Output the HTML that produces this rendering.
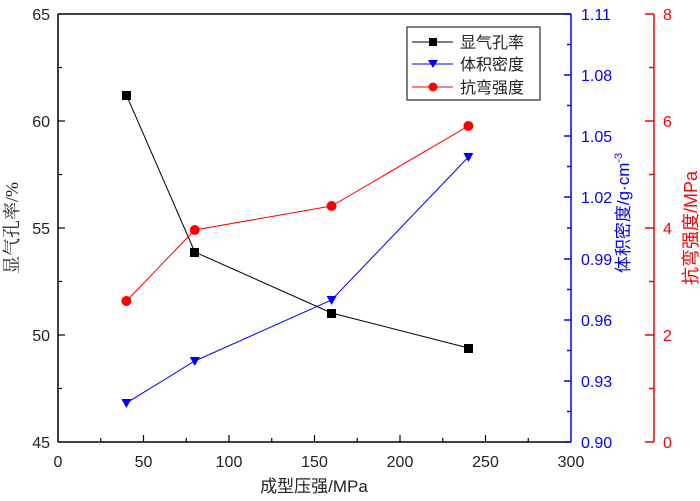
<!DOCTYPE html>
<html><head><meta charset="utf-8"><style>body{margin:0;background:#fff}svg{display:block}</style></head><body>
<svg width="700" height="501" xmlns="http://www.w3.org/2000/svg" font-family="Liberation Sans, Noto Sans CJK SC, sans-serif">
<rect width="700" height="501" fill="#fff"/>
<g stroke="#000" stroke-width="1.5" fill="none">
<line x1="58" y1="14" x2="571" y2="14"/>
<line x1="58" y1="14" x2="58" y2="442"/>
<line x1="58" y1="442" x2="571" y2="442"/>
</g>
<g stroke="#000" stroke-width="1.2">
<line x1="58" y1="121" x2="65" y2="121"/><line x1="58" y1="228" x2="65" y2="228"/><line x1="58" y1="335" x2="65" y2="335"/>
<line x1="58" y1="67.5" x2="62" y2="67.5"/><line x1="58" y1="174.5" x2="62" y2="174.5"/><line x1="58" y1="281.5" x2="62" y2="281.5"/><line x1="58" y1="388.5" x2="62" y2="388.5"/>
<line x1="143.5" y1="442" x2="143.5" y2="435"/><line x1="229" y1="442" x2="229" y2="435"/><line x1="314.5" y1="442" x2="314.5" y2="435"/><line x1="400" y1="442" x2="400" y2="435"/><line x1="485.5" y1="442" x2="485.5" y2="435"/>
<line x1="100.75" y1="442" x2="100.75" y2="438"/><line x1="186.25" y1="442" x2="186.25" y2="438"/><line x1="271.75" y1="442" x2="271.75" y2="438"/><line x1="357.25" y1="442" x2="357.25" y2="438"/><line x1="442.75" y1="442" x2="442.75" y2="438"/><line x1="528.25" y1="442" x2="528.25" y2="438"/>
</g>
<g font-size="16" fill="#222" text-anchor="end">
<text x="50" y="20">65</text><text x="50" y="127">60</text><text x="50" y="234">55</text><text x="50" y="341">50</text><text x="50" y="448">45</text>
</g>
<g font-size="16" fill="#222" text-anchor="middle">
<text x="58" y="467">0</text><text x="143.5" y="467">50</text><text x="229" y="467">100</text><text x="314.5" y="467">150</text><text x="400" y="467">200</text><text x="485.5" y="467">250</text><text x="571" y="467">300</text>
</g>
<text x="314" y="492" font-size="17" text-anchor="middle" fill="#222">成型压强/MPa</text>
<text transform="translate(18,228) rotate(-90)" font-size="18" text-anchor="middle" fill="#222" font-family="Liberation Serif, Noto Serif CJK SC, serif">显气孔率/%</text>
<g stroke="#00f" stroke-width="1.5">
<line x1="571" y1="14" x2="571" y2="442"/>
<line x1="564" y1="14" x2="571" y2="14"/><line x1="564" y1="75" x2="571" y2="75"/><line x1="564" y1="136" x2="571" y2="136"/><line x1="564" y1="197" x2="571" y2="197"/><line x1="564" y1="259" x2="571" y2="259"/><line x1="564" y1="320" x2="571" y2="320"/><line x1="564" y1="381" x2="571" y2="381"/><line x1="564" y1="442" x2="571" y2="442"/>
<line x1="567" y1="44.5" x2="571" y2="44.5"/><line x1="567" y1="105.5" x2="571" y2="105.5"/><line x1="567" y1="166.5" x2="571" y2="166.5"/><line x1="567" y1="228" x2="571" y2="228"/><line x1="567" y1="289.5" x2="571" y2="289.5"/><line x1="567" y1="350.5" x2="571" y2="350.5"/><line x1="567" y1="411.5" x2="571" y2="411.5"/>
</g>
<g font-size="16" fill="#00f">
<text x="581" y="20">1.11</text><text x="581" y="81">1.08</text><text x="581" y="142">1.05</text><text x="581" y="203">1.02</text><text x="581" y="265">0.99</text><text x="581" y="326">0.96</text><text x="581" y="387">0.93</text><text x="581" y="448">0.90</text>
</g>
<text transform="translate(629,213) rotate(-90)" font-size="17" text-anchor="middle" fill="#00f">体积密度/g·cm<tspan font-size="11" dy="-7">-3</tspan></text>
<g stroke="#f00" stroke-width="1.5">
<line x1="654" y1="14" x2="654" y2="442"/>
<line x1="645" y1="14" x2="654" y2="14"/><line x1="645" y1="121" x2="654" y2="121"/><line x1="645" y1="228" x2="654" y2="228"/><line x1="645" y1="335" x2="654" y2="335"/><line x1="645" y1="442" x2="654" y2="442"/>
<line x1="649" y1="67.5" x2="654" y2="67.5"/><line x1="649" y1="174.5" x2="654" y2="174.5"/><line x1="649" y1="281.5" x2="654" y2="281.5"/><line x1="649" y1="388.5" x2="654" y2="388.5"/>
</g>
<g font-size="16" fill="#f00">
<text x="663" y="20">8</text><text x="663" y="127">6</text><text x="663" y="234">4</text><text x="663" y="341">2</text><text x="663" y="448">0</text>
</g>
<text transform="translate(697,228) rotate(-90)" font-size="18" text-anchor="middle" fill="#f00">抗弯强度/MPa</text>
<polyline points="126.4,95 194.8,252 331.6,313 468.4,348" fill="none" stroke="#000" stroke-width="1"/>
<g fill="#000"><rect x="122" y="91" width="9" height="9"/><rect x="190" y="248" width="9" height="9"/><rect x="327" y="309" width="9" height="9"/><rect x="464" y="344" width="9" height="9"/></g>
<polyline points="126.4,403 194.8,361 331.6,300 468.4,157" fill="none" stroke="#00f" stroke-width="1"/>
<g fill="#00f"><path d="M121.4,399h10l-5,9z"/><path d="M189.8,357h10l-5,9z"/><path d="M326.6,296h10l-5,9z"/><path d="M463.4,153h10l-5,9z"/></g>
<polyline points="126.4,301 194.8,230 331.6,206 468.4,126" fill="none" stroke="#f00" stroke-width="1"/>
<g fill="#f00"><circle cx="126.4" cy="301" r="5"/><circle cx="194.8" cy="230" r="5"/><circle cx="331.6" cy="206" r="5"/><circle cx="468.4" cy="126" r="5"/></g>
<rect x="407" y="27" width="133" height="73" fill="#fff" stroke="#000" stroke-width="1"/>
<line x1="412" y1="42" x2="453" y2="42" stroke="#000"/><rect x="429" y="38" width="8" height="8" fill="#000"/>
<line x1="412" y1="64" x2="453" y2="64" stroke="#00f"/><path d="M428,60h10l-5,8z" fill="#00f"/>
<line x1="412" y1="87" x2="453" y2="87" stroke="#f00"/><circle cx="433" cy="87" r="4.5" fill="#f00"/>
<g font-size="16" fill="#222"><text x="460" y="48">显气孔率</text><text x="460" y="70">体积密度</text><text x="460" y="93">抗弯强度</text></g>
</svg>
</body></html>
